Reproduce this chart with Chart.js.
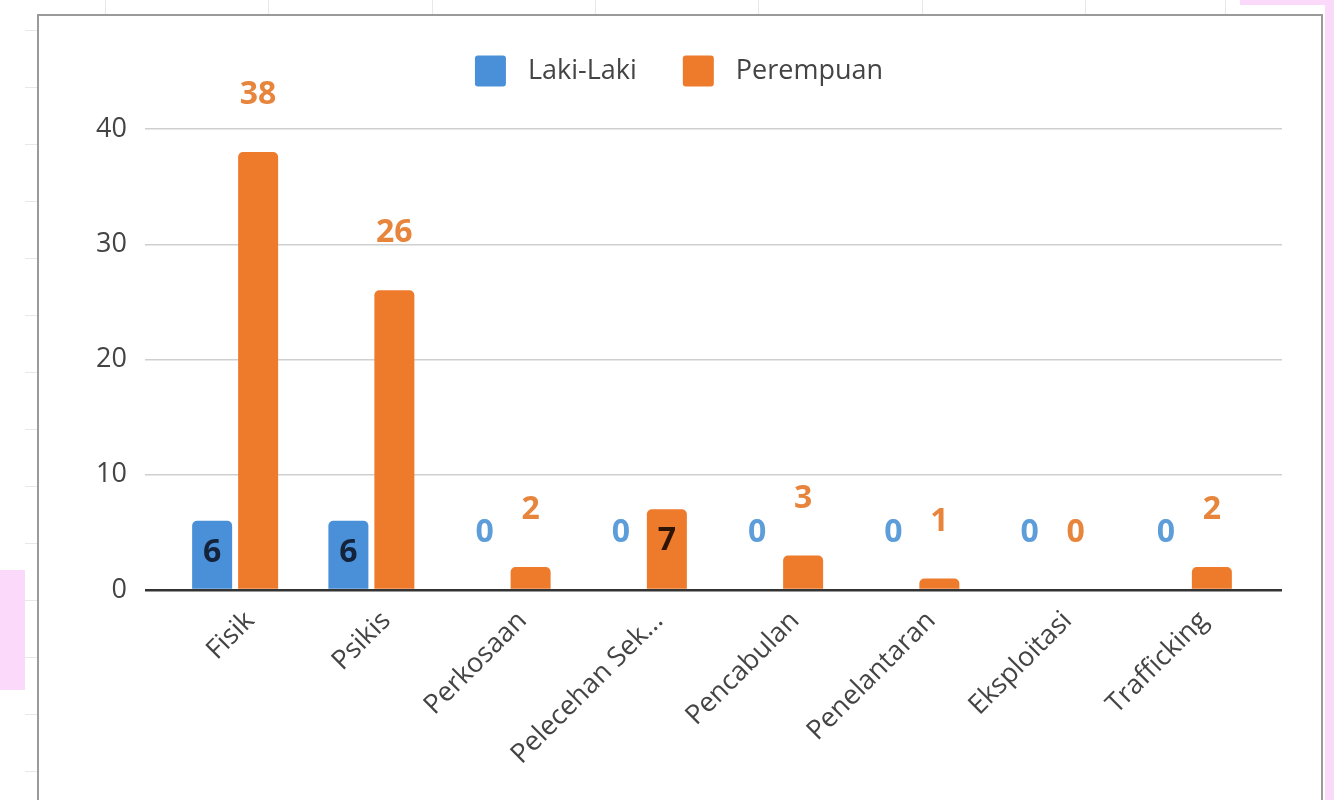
<!DOCTYPE html>
<html>
<head>
<meta charset="utf-8">
<script src="https://cdn.jsdelivr.net/npm/chart.js@4.4.1/dist/chart.umd.min.js"></script>
<style>
  html, body { margin: 0; padding: 0; background: #fff; }
  body { width: 1334px; height: 800px; position: relative; overflow: hidden; font-family: "Open Sans", sans-serif; }
  .pink { position: absolute; background: #fbd9fb; }
  .frame { position: absolute; left: 37px; top: 14px; width: 1282px; height: 800px;
           border: 2px solid #9a9a9a; border-bottom: none; background: #fff; }
  .mark-v { position: absolute; top: 0; width: 1px; height: 14px; background: #e8e8e8; }
  .mark-h { position: absolute; left: 25px; width: 12px; height: 1px; background: #e8e8e8; }
  #wrap { position: absolute; left: 0; top: 0; width: 1334px; height: 800px; }
</style>
</head>
<body>
<div class="pink" style="left:1240px; top:0; width:94px; height:5px;"></div>
<div class="pink" style="left:1325px; top:0; width:9px; height:800px;"></div>
<div class="pink" style="left:0; top:570px; width:25px; height:120px;"></div>
<div class="frame"></div>
<div id="marks"></div>
<div id="wrap"><canvas id="chart"></canvas></div>
<script>
// data
const categories = ["Fisik", "Psikis", "Perkosaan", "Pelecehan Sek...", "Pencabulan", "Penelantaran", "Eksploitasi", "Trafficking"];
const lakiLaki = [6, 6, 0, 0, 0, 0, 0, 0];
const perempuan = [38, 26, 2, 7, 3, 1, 0, 2];
const seriesNames = ["Laki-Laki", "Perempuan"];
const yTicks = [0, 10, 20, 30, 40];

// faint spreadsheet cell lines outside the chart frame
const marks = document.getElementById("marks");
[105, 268, 432, 595, 758, 922, 1085, 1225].forEach((x) => {
  const d = document.createElement("div");
  d.className = "mark-v";
  d.style.left = x + "px";
  marks.appendChild(d);
});
for (let y = 30; y < 800; y += 57) {
  const d = document.createElement("div");
  d.className = "mark-h";
  d.style.top = y + "px";
  marks.appendChild(d);
}

const gridColor = (c) => (c.tick && c.tick.value === 0 ? "#333333" : "#cfcfcf");
const gridWidth = (c) => (c.tick && c.tick.value === 0 ? 2.5 : 1.5);

// value labels: inside short-but-roomy bars (like the reference), otherwise above the bar
const valueLabels = {
  id: "valueLabels",
  afterDatasetsDraw(chart) {
    const ctx = chart.ctx;
    ctx.save();
    ctx.font = 'bold 32px "Open Sans"';
    ctx.textAlign = "center";
    ctx.textBaseline = "middle";
    chart.data.datasets.forEach((ds, di) => {
      const meta = chart.getDatasetMeta(di);
      meta.data.forEach((bar, i) => {
        const v = ds.data[i];
        const inside = v >= 5 && v < 10;
        ctx.fillStyle = inside ? ds.insideLabelColor : ds.labelColor;
        ctx.fillText(String(v), bar.x, inside ? bar.y + 32 : bar.y - 57);
      });
    });
    ctx.restore();
  },
};

// legend in the style of the reference (big square boxes)
const topLegend = {
  id: "topLegend",
  afterDraw(chart) {
    const ctx = chart.ctx;
    ctx.save();
    ctx.font = '27px "Open Sans"';
    ctx.textBaseline = "middle";
    const box = 31, gapText = 22, gapItem = 46;
    const items = chart.data.datasets.map((ds) => ({ text: ds.label, color: ds.backgroundColor, w: ctx.measureText(ds.label).width }));
    let total = 0;
    items.forEach((it, i) => { total += box + gapText + it.w + (i < items.length - 1 ? gapItem : 0); });
    let x = 679 - total / 2;
    const cy = 71;
    items.forEach((it) => {
      ctx.fillStyle = it.color;
      ctx.beginPath();
      ctx.roundRect(x, cy - box / 2, box, box, 3);
      ctx.fill();
      ctx.fillStyle = "#444444";
      ctx.fillText(it.text, x + box + gapText, cy);
      x += box + gapText + it.w + gapItem;
    });
    ctx.restore();
  },
};

new Chart(document.getElementById("chart"), {
  type: "bar",
  data: {
    labels: categories,
    datasets: [
      {
        label: seriesNames[0],
        data: lakiLaki,
        backgroundColor: "#4a90d9",
        labelColor: "#5c9dda",
        insideLabelColor: "#14233a",
        borderRadius: { topLeft: 5, topRight: 5 },
        borderSkipped: "start",
      },
      {
        label: seriesNames[1],
        data: perempuan,
        backgroundColor: "#ee7b2c",
        labelColor: "#e8853c",
        insideLabelColor: "#2e1405",
        borderRadius: { topLeft: 5, topRight: 5 },
        borderSkipped: "start",
      },
    ],
  },
  options: {
    responsive: true,
    maintainAspectRatio: false,
    devicePixelRatio: 1,
    animation: false,
    categoryPercentage: 0.675,
    barPercentage: 0.87,
    layout: { padding: { top: 129, left: 0, right: 0, bottom: 0 } },
    plugins: {
      legend: { display: false },
      tooltip: { enabled: false },
    },
    scales: {
      x: {
        grid: { display: false, drawTicks: false },
        border: { display: false },
        ticks: {
          autoSkip: false,
          minRotation: 45,
          maxRotation: 45,
          padding: 15,
          labelOffset: 15,
          color: "#444444",
          font: { family: "Open Sans", size: 27 },
        },
        afterFit: (s) => { s.height = 210; },
      },
      y: {
        position: "left",
        min: 0,
        max: 40,
        afterBuildTicks: (s) => { s.ticks = yTicks.map((v) => ({ value: v })); },
        grid: { color: gridColor, lineWidth: gridWidth, tickColor: gridColor, tickLength: 22 },
        border: { display: false },
        ticks: { padding: 18, color: "#444444", font: { family: "Open Sans", size: 27 } },
        afterFit: (s) => { s.width = 167; },
      },
      yRight: {
        position: "right",
        min: 0,
        max: 40,
        afterBuildTicks: (s) => { s.ticks = yTicks.map((v) => ({ value: v })); },
        grid: { drawOnChartArea: false, color: gridColor, lineWidth: gridWidth, tickColor: gridColor, tickLength: 25 },
        border: { display: false },
        ticks: { display: false },
        afterFit: (s) => { s.width = 77; },
      },
    },
  },
  plugins: [valueLabels, topLegend],
});
</script>
</body>
</html>
